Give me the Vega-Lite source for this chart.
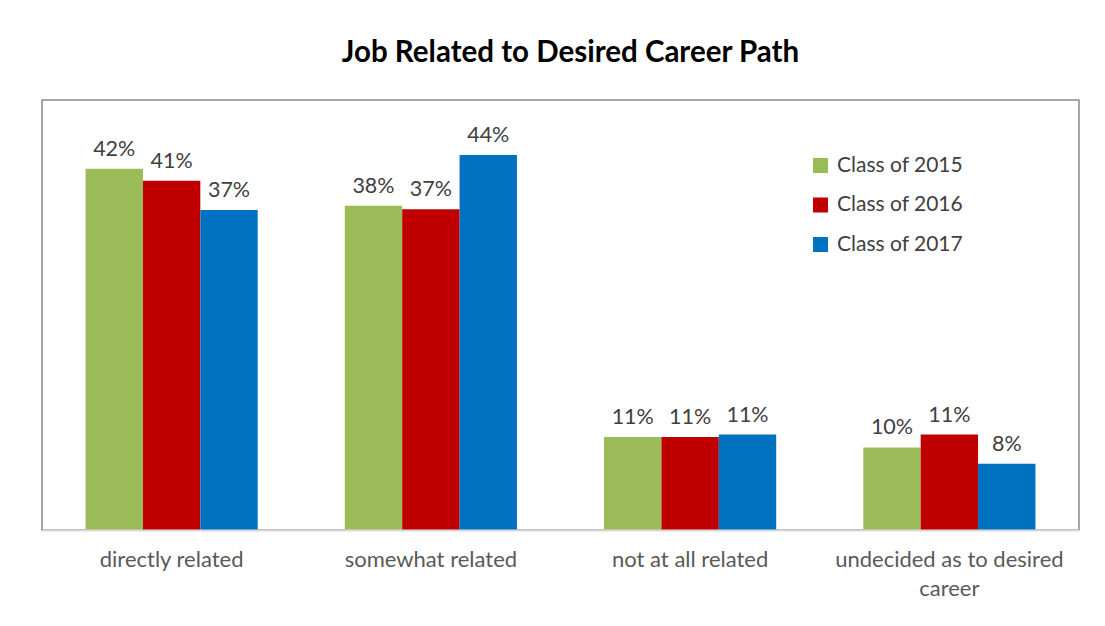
{
  "$schema": "https://vega.github.io/schema/vega-lite/v6.json",
  "width": 1037,
  "height": 430,
  "autosize": {"type": "none"},
  "padding": {"left": 42, "top": 100, "right": 26, "bottom": 96},
  "background": "white",
  "title": {
    "text": "Job Related to Desired Career Path",
    "font": "Lato",
    "fontSize": 29.5,
    "fontWeight": "bold",
    "color": "#000000",
    "anchor": "middle",
    "offset": 32,
    "dx": 10
  },
  "data": {
    "values": [
      {"category": "directly related", "cohort": "Class of 2015", "share": 0.42},
      {"category": "directly related", "cohort": "Class of 2016", "share": 0.406},
      {"category": "directly related", "cohort": "Class of 2017", "share": 0.372},
      {"category": "somewhat related", "cohort": "Class of 2015", "share": 0.377},
      {"category": "somewhat related", "cohort": "Class of 2016", "share": 0.373},
      {"category": "somewhat related", "cohort": "Class of 2017", "share": 0.436},
      {"category": "not at all related", "cohort": "Class of 2015", "share": 0.108},
      {"category": "not at all related", "cohort": "Class of 2016", "share": 0.108},
      {"category": "not at all related", "cohort": "Class of 2017", "share": 0.111},
      {"category": "undecided as to desired career", "cohort": "Class of 2015", "share": 0.096},
      {"category": "undecided as to desired career", "cohort": "Class of 2016", "share": 0.111},
      {"category": "undecided as to desired career", "cohort": "Class of 2017", "share": 0.077}
    ]
  },
  "encoding": {
    "x": {
      "field": "category",
      "type": "nominal",
      "sort": ["directly related", "somewhat related", "not at all related", "undecided as to desired career"],
      "scale": {"paddingInner": 0.336, "paddingOuter": 0.168},
      "axis": {
        "title": null,
        "labelAngle": 0,
        "labelFont": "Lato",
        "labelFontSize": 22,
        "labelColor": "#595959",
        "labelPadding": 19,
        "labelLineHeight": 29,
        "labelLimit": 400,
        "labelExpr": "datum.label == 'undecided as to desired career' ? ['undecided as to desired', 'career'] : datum.label",
        "ticks": false,
        "domainColor": "#d9d9d9",
        "domainWidth": 2,
        "zindex": 1
      }
    },
    "xOffset": {
      "field": "cohort",
      "type": "nominal",
      "sort": ["Class of 2015", "Class of 2016", "Class of 2017"]
    },
    "y": {
      "field": "share",
      "type": "quantitative",
      "scale": {"domain": [0, 0.5], "nice": false},
      "axis": null
    }
  },
  "layer": [
    {
      "mark": {"type": "bar"},
      "encoding": {
        "color": {
          "field": "cohort",
          "type": "nominal",
          "sort": ["Class of 2015", "Class of 2016", "Class of 2017"],
          "scale": {
            "domain": ["Class of 2015", "Class of 2016", "Class of 2017"],
            "range": ["#9BBB59", "#C00000", "#0070C0"]
          },
          "legend": {
            "title": null,
            "orient": "none",
            "legendX": 768,
            "legendY": 55,
            "symbolType": "square",
            "symbolSize": 225,
            "symbolStrokeWidth": 0,
            "symbolOpacity": 1,
            "labelFont": "Lato",
            "labelFontSize": 21,
            "labelColor": "#404040",
            "labelOffset": 6,
            "rowPadding": 17.5
          }
        }
      }
    },
    {
      "mark": {
        "type": "text",
        "baseline": "bottom",
        "dy": -8,
        "font": "Lato",
        "fontSize": 21.5,
        "color": "#404040"
      },
      "encoding": {
        "text": {"field": "share", "type": "quantitative", "format": ".0%"}
      }
    }
  ],
  "config": {
    "view": {"stroke": "#898989", "strokeWidth": 1.5}
  }
}
